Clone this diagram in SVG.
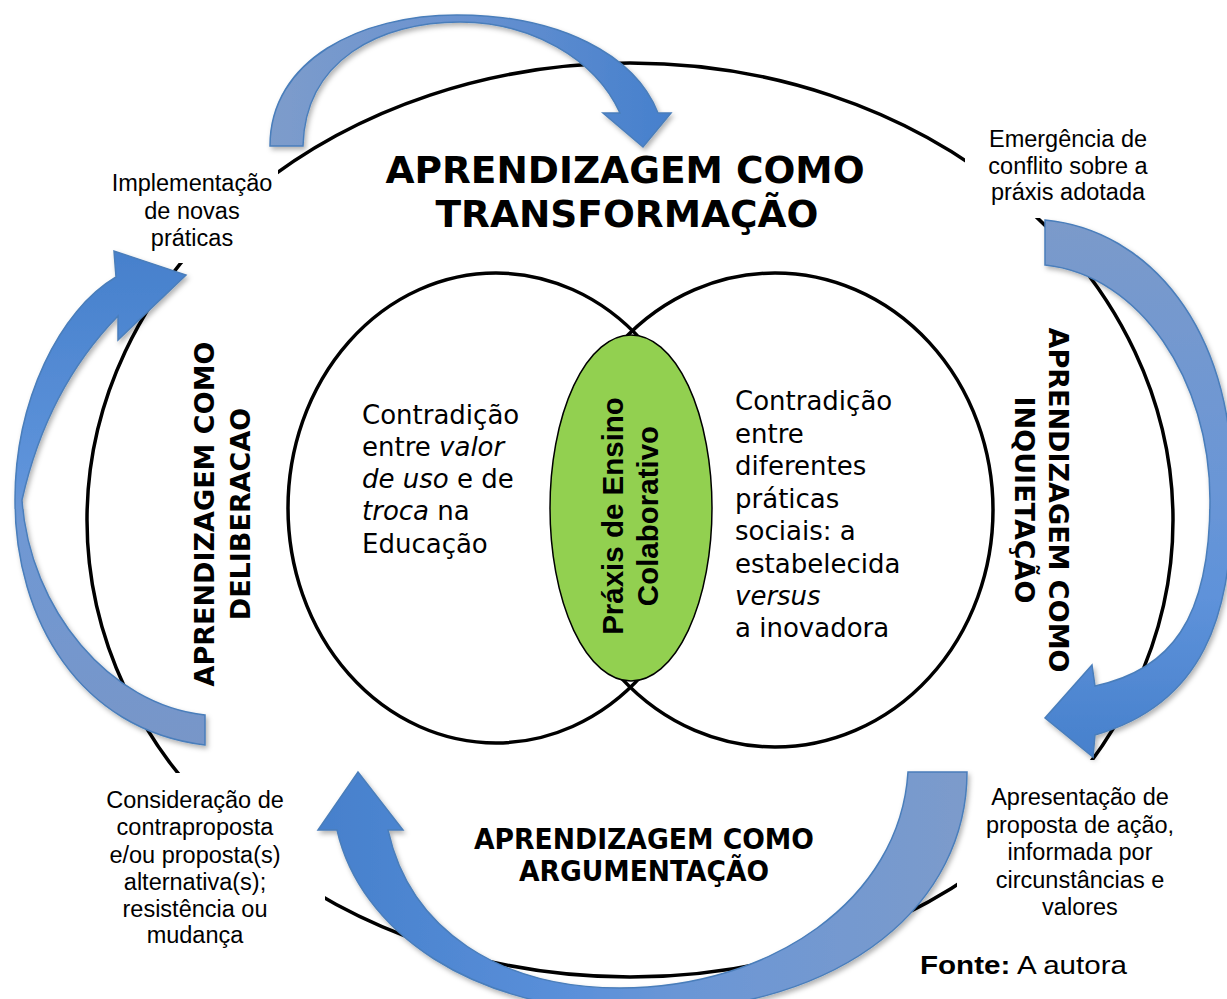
<svg xmlns="http://www.w3.org/2000/svg" width="1227" height="999" viewBox="0 0 1227 999">
<defs>
<style>
.lbl{font-family:"Liberation Sans",Arial,sans-serif;font-size:23.5px;fill:#000;text-anchor:middle}
.vt{font-family:"DejaVu Sans",Verdana,sans-serif;font-size:26px;fill:#000}
.ttl{font-family:"DejaVu Sans",Verdana,sans-serif;font-weight:bold;fill:#000;text-anchor:middle}
.gt{font-family:"Liberation Sans",Arial,sans-serif;font-weight:bold;font-size:29.5px;fill:#000;text-anchor:middle}
.arr{stroke:#4A7EBB;stroke-width:1.5;filter:url(#sh)}
.bg{fill:#fff}
.ring{fill:none;stroke:#000;stroke-width:3.5}
</style>
<filter id="sh" x="-20%" y="-20%" width="140%" height="140%"><feDropShadow dx="2" dy="3" stdDeviation="2.5" flood-color="#000" flood-opacity="0.3"/></filter>
<linearGradient id="gTop" gradientUnits="userSpaceOnUse" x1="270" y1="0" x2="670" y2="0"><stop offset="0" stop-color="#7D9CCB"/><stop offset="0.45" stop-color="#6B93D0"/><stop offset="1" stop-color="#4680CD"/></linearGradient>
<linearGradient id="gRight" gradientUnits="userSpaceOnUse" x1="0" y1="220" x2="0" y2="760"><stop offset="0" stop-color="#7B9ACA"/><stop offset="0.5" stop-color="#6A96D6"/><stop offset="0.7" stop-color="#5E92DA"/><stop offset="1" stop-color="#4680CC"/></linearGradient>
<linearGradient id="gBottom" gradientUnits="userSpaceOnUse" x1="967" y1="0" x2="320" y2="0"><stop offset="0" stop-color="#7C9BCB"/><stop offset="0.45" stop-color="#6A96D6"/><stop offset="0.6" stop-color="#5B90DA"/><stop offset="1" stop-color="#4680CC"/></linearGradient>
<linearGradient id="gLeft" gradientUnits="userSpaceOnUse" x1="0" y1="745" x2="0" y2="250"><stop offset="0" stop-color="#7896C8"/><stop offset="0.45" stop-color="#6F98D4"/><stop offset="0.55" stop-color="#5E93DA"/><stop offset="1" stop-color="#4680CC"/></linearGradient>
</defs>
<rect width="1227" height="999" fill="#fff"/>

<g id="outer-cycle">
<ellipse class="ring" cx="630" cy="520" rx="543" ry="457"/>
</g>

<g id="label-boxes">
<rect class="bg" x="100" y="166" width="178" height="97"/>
<rect class="bg" x="965" y="118" width="210" height="100"/>
<rect class="bg" x="95" y="773" width="230" height="184"/>
<rect class="bg" x="957" y="760" width="250" height="165"/>
</g>

<g id="title-transformacao">
<text class="ttl" x="625" y="183" font-size="37.5">APRENDIZAGEM COMO</text>
<text class="ttl" x="627" y="227" font-size="37.5">TRANSFORMAÇÃO</text>
</g>

<g id="title-deliberacao">
<text class="ttl" font-size="27" transform="translate(214,514) rotate(-90)">APRENDIZAGEM COMO</text>
<text class="ttl" font-size="27" transform="translate(250,514) rotate(-90)">DELIBERACAO</text>
</g>

<g id="title-inquietacao">
<text class="ttl" font-size="27" transform="translate(1049,500) rotate(90)">APRENDIZAGEM COMO</text>
<text class="ttl" font-size="27" transform="translate(1015,500) rotate(90)">INQUIETAÇÃO</text>
</g>

<g id="title-argumentacao">
<text class="ttl" x="644" y="849" font-size="27.5" font-stretch="condensed" textLength="340" lengthAdjust="spacingAndGlyphs">APRENDIZAGEM COMO</text>
<text class="ttl" x="644" y="881" font-size="27.5" font-stretch="condensed" textLength="250" lengthAdjust="spacingAndGlyphs">ARGUMENTAÇÃO</text>
</g>

<g id="circle-valor">
<ellipse class="ring" cx="496" cy="508" rx="208" ry="235"/>
<text class="vt" x="362" y="424">Contradição</text>
<text class="vt" x="362" y="456">entre <tspan font-style="italic">valor</tspan></text>
<text class="vt" x="362" y="488"><tspan font-style="italic">de uso</tspan> e de</text>
<text class="vt" x="362" y="520"><tspan font-style="italic">troca</tspan> na</text>
<text class="vt" x="362" y="553">Educação</text>
</g>

<g id="circle-praticas">
<ellipse class="ring" cx="775" cy="510" rx="218" ry="237"/>
<text class="vt" x="735" y="410">Contradição</text>
<text class="vt" x="735" y="443">entre</text>
<text class="vt" x="735" y="475">diferentes</text>
<text class="vt" x="735" y="508">práticas</text>
<text class="vt" x="735" y="540">sociais: a</text>
<text class="vt" x="735" y="573">estabelecida</text>
<text class="vt" x="735" y="605" font-style="italic">versus</text>
<text class="vt" x="735" y="637">a inovadora</text>
</g>

<g id="praxis">
<ellipse cx="631" cy="508" rx="81" ry="173" fill="#92D050" stroke="#000" stroke-width="1.5"/>
<text class="gt" transform="translate(623,516) rotate(-90)">Práxis de Ensino</text>
<text class="gt" transform="translate(658,516) rotate(-90)">Colaborativo</text>
</g>

<g id="label-implementacao">
<text class="lbl" x="192" y="191">Implementação</text>
<text class="lbl" x="192" y="218.5">de novas</text>
<text class="lbl" x="192" y="246">práticas</text>
</g>

<g id="label-emergencia">
<text class="lbl" x="1068" y="147">Emergência de</text>
<text class="lbl" x="1068" y="173.5">conflito sobre a</text>
<text class="lbl" x="1068" y="200">práxis adotada</text>
</g>

<g id="label-apresentacao">
<text class="lbl" x="1080" y="805">Apresentação de</text>
<text class="lbl" x="1080" y="833">proposta de ação,</text>
<text class="lbl" x="1080" y="860">informada por</text>
<text class="lbl" x="1080" y="888">circunstâncias e</text>
<text class="lbl" x="1080" y="915">valores</text>
</g>

<g id="label-consideracao">
<text class="lbl" x="195" y="808">Consideração de</text>
<text class="lbl" x="195" y="835">contraproposta</text>
<text class="lbl" x="195" y="863">e/ou proposta(s)</text>
<text class="lbl" x="195" y="890">alternativa(s);</text>
<text class="lbl" x="195" y="917">resistência ou</text>
<text class="lbl" x="195" y="943">mudança</text>
</g>

<g id="connectors">
<path class="arr" fill="url(#gTop)" d="M270,146 C270,60 360,15 457,15 C560,15 635,55 658,113 L671,113 L643,147 L603,113 L620,113 C595,58 530,22 460,22 C380,22 305,60 303,146 Z"/>
<path class="arr" fill="url(#gRight)" d="M1045,220 C1150,230 1232,330 1232,480 C1236,620 1200,705 1095,735 L1093,757 L1045,718 L1092,665 L1095,686 C1170,670 1210,620 1210,500 C1210,380 1140,275 1045,265 Z"/>
<path class="arr" fill="url(#gBottom)" d="M967,772 C967,900 850,1010 640,1012 C470,1012 360,930 337,830 L318,830 L358,772 L403,830 L388,830 C410,930 500,988 620,988 C770,988 900,900 908,772 Z"/>
<path class="arr" fill="url(#gLeft)" d="M205,745 C80,730 15,620 15,500 C15,400 60,310 116,277 L114,251 L186,275 L118,340 L118,316 C75,360 40,420 22,500 C30,610 110,705 205,715 Z"/>
</g>

<g id="source">
<text x="920" y="974" font-family="'Liberation Sans',Arial,sans-serif" font-size="25.5" textLength="207" lengthAdjust="spacingAndGlyphs"><tspan font-weight="bold">Fonte:</tspan> A autora</text>
</g>
</svg>
